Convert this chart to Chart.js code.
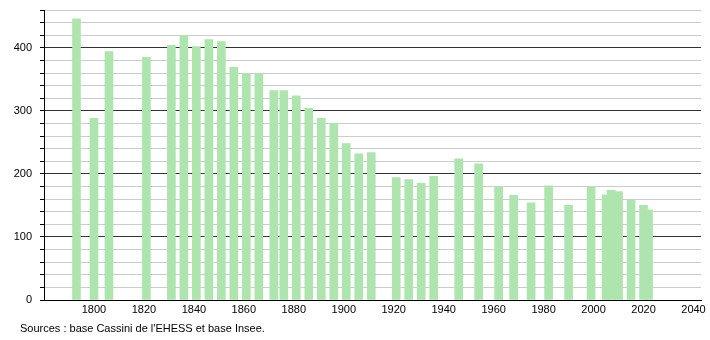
<!DOCTYPE html>
<html>
<head>
<meta charset="utf-8">
<script src="https://cdn.jsdelivr.net/npm/chart.js@4"></script>
<style>
  body { margin: 0; background: #fff; }
  #wrap { position: relative; width: 710px; height: 340px; }
  #source {
    position: absolute; left: 20px; top: 322px;
    font: 11px 'Liberation Sans', Arial, sans-serif; color: #000;
  }
</style>
</head>
<body>
<div id="wrap">
  <canvas id="chartPop" width="710" height="340"></canvas>
  <div id="source">Sources : base Cassini de l'EHESS et base Insee.</div>
</div>
<script>
// --- DATA: census years and population ---
const years = [1793, 1800, 1806, 1821, 1831, 1836, 1841, 1846, 1851, 1856,
               1861, 1866, 1872, 1876, 1881, 1886, 1891, 1896, 1901, 1906,
               1911, 1921, 1926, 1931, 1936, 1946, 1954, 1962, 1968, 1975,
               1982, 1990, 1999, 2005, 2007, 2010, 2015, 2020, 2022];
const population = [446, 288, 394, 385, 404, 419, 402, 413, 410, 369,
                    359, 359, 332, 332, 324, 304, 288, 280, 248, 232,
                    234, 194, 191, 185, 196, 224, 216, 179, 166, 154,
                    181, 150, 179, 167, 174, 172, 158, 150, 143];
const yearTicks = [1800, 1820, 1840, 1860, 1880, 1900, 1920, 1940, 1960, 1980, 2000, 2020, 2040];

Chart.defaults.font.family = "'Liberation Sans', Arial, sans-serif";
Chart.defaults.font.size = 11;
Chart.defaults.color = '#000';

const ctx = document.getElementById('chartPop').getContext('2d');
new Chart(ctx, {
    type: 'bar',
    data: {
        datasets: [{
            data: years.map((x, i) => ({ x: x, y: population[i] })),
            backgroundColor: '#aee4ae',
            borderWidth: 0,
            barThickness: 8
        }]
    },
    options: {
        responsive: false,
        animation: false,
        layout: { padding: { top: 10, right: 9, left: 0, bottom: 0 } },
        plugins: {
            legend: { display: false },
            tooltip: { enabled: false }
        },
        scales: {
            x: {
                type: 'linear',
                offset: false,
                min: 1780,
                max: 2043,
                afterFit: s => { s.height = 40; },
                grid: { display: false, drawTicks: false, offset: false },
                border: { display: true, color: '#000', width: 1 },
                ticks: {
                    stepSize: 20,
                    includeBounds: false,
                    padding: 3,
                    maxRotation: 0,
                    callback: v => yearTicks.includes(v) ? String(v) : ''
                }
            },
            y: {
                min: 0,
                max: 460,
                afterFit: s => { s.width = 44; s.paddingTop = 0; s.paddingBottom = 0; },
                grid: {
                    color: c => (c.tick && c.tick.value % 100 === 0) ? '#333' : '#cccccc',
                    tickColor: '#000',
                    tickLength: 4
                },
                border: { display: true, color: '#000', width: 1 },
                ticks: {
                    stepSize: 20,
                    padding: 8,
                    autoSkip: false,
                    callback: v => (v % 100 === 0) ? String(v) : ''
                }
            }
        }
    }
});
</script>
</body>
</html>
